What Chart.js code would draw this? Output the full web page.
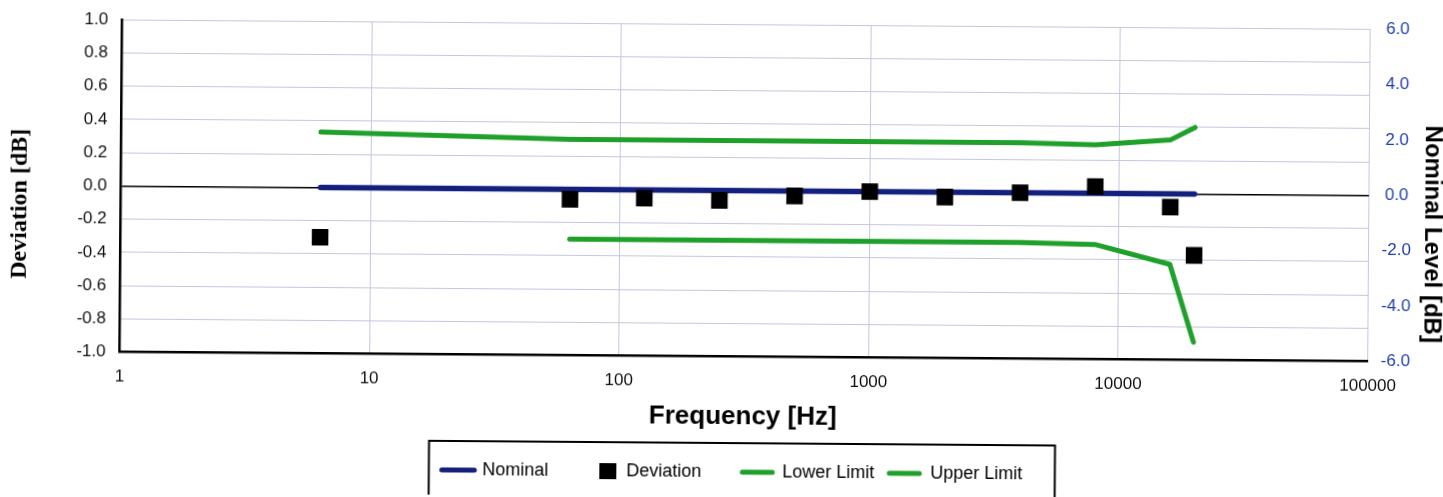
<!DOCTYPE html>
<html>
<head>
<meta charset="utf-8">
<title>Deviation vs Frequency</title>
<style>
  html, body { margin: 0; padding: 0; background: #fff; overflow: hidden; }
  /* the sheet sits slightly skewed on the page */
  #sheet { width: 1443px; height: 497px; transform: rotate(0.43deg); transform-origin: 50% 50%; }
  canvas { display: block; }
</style>
<script src="https://cdn.jsdelivr.net/npm/chart.js@4.4.1/dist/chart.umd.min.js"></script>
</head>
<body>
<div id="sheet"><canvas id="chart" width="1443" height="497"></canvas></div>
<script>
// Test frequencies [Hz]
const frequencies = [6.3, 63, 125, 250, 500, 1000, 2000, 4000, 8000, 16000, 20000];
// Nominal level [dB] (right axis)
const nominal = [0, 0, 0, 0, 0, 0, 0, 0, 0, 0, 0];
// Measured deviation [dB] (left axis)
const deviation = [-0.30, -0.06, -0.05, -0.06, -0.03, 0.00, -0.03, 0.00, 0.04, -0.08, -0.37];
// Tolerance limits [dB] (right axis)
const lowerLimit = [null, -1.8, -1.8, -1.8, -1.8, -1.8, -1.8, -1.8, -1.85, -2.55, -5.35];
const upperLimit = [2.0, 1.8, 1.8, 1.8, 1.8, 1.8, 1.8, 1.8, 1.75, 1.95, 2.4];
// Axis ticks
const freqTicks = [1, 10, 100, 1000, 10000, 100000];
const deviationTicks = [-1.0, -0.8, -0.6, -0.4, -0.2, 0.0, 0.2, 0.4, 0.6, 0.8, 1.0];
const levelTicks = [-6, -4, -2, 0, 2, 4, 6];

const NAVY = '#14207e';
const GREEN = '#1fa02b';
const GRID = '#c6c6e0';
const SANS = '"Liberation Sans", Arial, sans-serif';

Chart.defaults.font.family = SANS;

const toPoints = vals => frequencies.map((f, i) => ({ x: f, y: vals[i] }));
const fixedTicks = list => scale => { scale.ticks = list.map(v => ({ value: v })); };
const oneDecimal = v => (Math.abs(v) < 1e-9 ? 0 : Number(v)).toFixed(1);

// Axis titles and the boxed key
const titlesAndKey = {
  id: 'titlesAndKey',
  afterDraw(chart) {
    const ctx = chart.ctx;
    const ds = chart.data.datasets;
    ctx.save();
    ctx.fillStyle = '#000';

    ctx.save();
    ctx.font = 'bold 24px "Liberation Serif", "Times New Roman", serif';
    ctx.textAlign = 'center';
    ctx.textBaseline = 'middle';
    ctx.translate(20, 209);
    ctx.rotate(-Math.PI / 2);
    ctx.fillText('Deviation [dB]', 0, 0);
    ctx.restore();

    ctx.save();
    ctx.font = 'bold 24px ' + SANS;
    ctx.textAlign = 'center';
    ctx.textBaseline = 'middle';
    ctx.translate(1432, 229);
    ctx.rotate(Math.PI / 2);
    ctx.fillText('Nominal Level [dB]', 0, 0);
    ctx.restore();

    ctx.font = 'bold 26px ' + SANS;
    ctx.textAlign = 'center';
    ctx.textBaseline = 'alphabetic';
    ctx.fillText('Frequency [Hz]', 744, 424);

    // key frame
    ctx.strokeStyle = '#000';
    ctx.lineWidth = 2;
    ctx.strokeRect(430.5, 443, 626, 90);

    const rowY = 472;
    const lineSample = (x1, x2, color) => {
      ctx.beginPath();
      ctx.strokeStyle = color;
      ctx.lineWidth = 5;
      ctx.lineCap = 'round';
      ctx.moveTo(x1, rowY);
      ctx.lineTo(x2, rowY);
      ctx.stroke();
    };
    lineSample(443.5, 476, ds[0].borderColor);
    ctx.fillStyle = ds[1].backgroundColor;
    ctx.fillRect(601, 464, 17, 16);
    lineSample(744, 774, ds[2].borderColor);
    lineSample(891, 921, ds[3].borderColor);

    ctx.fillStyle = '#000';
    ctx.font = '18px ' + SANS;
    ctx.textAlign = 'left';
    ctx.textBaseline = 'alphabetic';
    ctx.fillText(ds[0].label, 484, 476.5);
    ctx.fillText(ds[1].label, 628, 476.5);
    ctx.fillText(ds[2].label, 784, 476.5);
    ctx.fillText(ds[3].label, 932, 476.5);
    ctx.restore();
  }
};

const paper = {
  id: 'paper',
  beforeDraw(chart) {
    const ctx = chart.ctx;
    ctx.save();
    ctx.fillStyle = '#fff';
    ctx.fillRect(0, 0, chart.width, chart.height);
    ctx.restore();
  }
};

new Chart(document.getElementById('chart'), {
  type: 'scatter',
  data: {
    datasets: [
      {
        label: 'Nominal', data: toPoints(nominal), yAxisID: 'yLevel', showLine: true,
        borderColor: NAVY, backgroundColor: NAVY, borderWidth: 5.5, borderCapStyle: 'round',
        pointRadius: 0, order: 1
      },
      {
        label: 'Deviation', data: toPoints(deviation), yAxisID: 'yDev', showLine: false,
        pointStyle: 'rect', pointRadius: 11.7, pointHoverRadius: 11.7, pointBorderWidth: 0,
        backgroundColor: '#000', borderColor: '#000', order: 0
      },
      {
        label: 'Lower Limit', data: toPoints(lowerLimit), yAxisID: 'yLevel', showLine: true,
        borderColor: GREEN, backgroundColor: GREEN, borderWidth: 5, borderCapStyle: 'round',
        borderJoinStyle: 'round', pointRadius: 0, order: 1
      },
      {
        label: 'Upper Limit', data: toPoints(upperLimit), yAxisID: 'yLevel', showLine: true,
        borderColor: GREEN, backgroundColor: GREEN, borderWidth: 5, borderCapStyle: 'round',
        borderJoinStyle: 'round', pointRadius: 0, order: 1
      }
    ]
  },
  options: {
    responsive: false,
    animation: false,
    devicePixelRatio: 1,
    events: [],
    layout: { padding: { top: 23, left: 0, right: 0, bottom: 0 } },
    plugins: { legend: { display: false }, tooltip: { enabled: false }, title: { display: false } },
    scales: {
      x: {
        type: 'logarithmic', position: 'bottom', min: 1, max: 100000,
        afterBuildTicks: fixedTicks(freqTicks),
        afterFit: s => { s.height = 140.4; },
        ticks: { callback: v => String(v), color: '#111', font: { size: 17 }, padding: 15, autoSkip: false, maxRotation: 0 },
        grid: { color: c => (c.tick && c.tick.value === 1 ? 'rgba(0,0,0,0)' : GRID), lineWidth: 1, drawTicks: false },
        border: { display: true, color: '#000', width: 2.5 }
      },
      yDev: {
        type: 'linear', position: 'left', min: -1, max: 1,
        afterBuildTicks: fixedTicks(deviationTicks),
        afterFit: s => { s.width = 120.5; },
        ticks: { callback: oneDecimal, color: '#111', font: { size: 17 }, padding: 14 },
        grid: {
          color: c => {
            const v = c.tick ? c.tick.value : NaN;
            if (Math.abs(v) < 1e-9) return '#000';
            if (Math.abs(v + 1) < 1e-9) return 'rgba(0,0,0,0)';
            return GRID;
          },
          lineWidth: c => (c.tick && Math.abs(c.tick.value) < 1e-9 ? 1.6 : 1),
          drawTicks: false
        },
        border: { display: true, color: '#000', width: 2.5 }
      },
      yLevel: {
        type: 'linear', position: 'right', min: -6, max: 6,
        afterBuildTicks: fixedTicks(levelTicks),
        afterFit: s => { s.width = 74.4; },
        ticks: { callback: oneDecimal, color: '#1f3fae', font: { size: 17 }, padding: 13, crossAlign: 'center' },
        grid: { drawOnChartArea: false, drawTicks: false },
        border: { display: false }
      }
    }
  },
  plugins: [paper, titlesAndKey]
});
</script>
</body>
</html>
